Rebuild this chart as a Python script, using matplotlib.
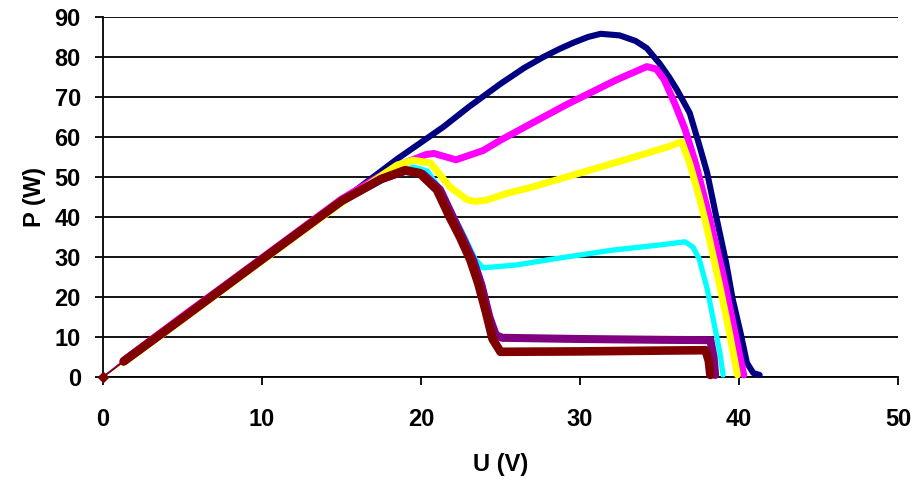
import matplotlib
matplotlib.use("Agg")
import matplotlib.pyplot as plt
from matplotlib import font_manager

# Pick a narrow bold sans if available
available = {f.name for f in font_manager.fontManager.ttflist}
FONT = "Liberation Sans Narrow" if "Liberation Sans Narrow" in available else "Liberation Sans"
plt.rcParams["font.family"] = [FONT, "DejaVu Sans"]

# P-U curves of a PV module under different shading levels
u_full = [0, 1.3, 5, 10, 15, 18.5, 21.4, 23, 25, 26.5, 27.7, 28.7, 29.6, 30.5, 31.3,
          32.5, 33.5, 34.2, 35.0, 35.6, 36.1, 36.9, 37.5, 38.0, 38.6, 39.2, 39.6,
          40.1, 40.5, 40.9, 41.3]
p_full = [0, 3.9, 14.7, 29.4, 44, 54.5, 62.5, 67.5, 73.3, 77.3, 80.0, 82.0, 83.6,
          85.0, 85.8, 85.4, 84.0, 82.2, 78.4, 75, 71.8, 66, 58, 51, 39.5, 28.4, 19.5,
          11, 3.5, 1, 0.5]

u_s1 = [0, 1.3, 5, 10, 15, 18.5, 20.3, 20.8, 22.2, 23.9, 25, 27, 29.2, 32.3, 34.2,
        34.8, 35.3, 36.0, 36.6, 37.3, 38.2, 39.0, 39.7, 40.3]
p_s1 = [0, 4.2, 15.2, 29.8, 44.5, 52.8, 55.6, 55.9, 54.3, 56.6, 59.2, 63.5, 68.2, 74.3,
        77.6, 77, 74.3, 68, 62, 53, 39, 25.5, 12, 0.5]

u_s2 = [0, 1.3, 5, 10, 15, 18.5, 19.5, 20.6, 21.8, 22.9, 23.4, 24.1, 25.4, 27, 30,
        33, 35.5, 36.4, 36.9, 37.5, 38.0, 38.8, 39.4, 39.9]
p_s2 = [0, 3.6, 14.3, 29.0, 43.5, 53.0, 54.2, 53.5, 47.6, 44.3, 43.9, 44.2, 45.9, 47.5,
        51, 54.5, 57.5, 58.8, 53.4, 45, 37, 22.6, 11, 0.5]

u_s3 = [0, 1.3, 5, 10, 15, 18, 19.5, 20.4, 21.2, 22.1, 22.75, 23.4, 23.9, 26, 28,
        32, 35, 36.6, 37.1, 37.5, 38.0, 38.4, 38.8, 39.0]
p_s3 = [0, 3.8, 14.5, 29.2, 43.8, 50, 52.5, 51.5, 47, 40, 35, 29.5, 27.3, 28, 29.3,
        31.7, 33, 33.8, 32.5, 29.5, 22, 14, 6, 0.5]

u_s4 = [0, 1.3, 5, 10, 15, 17.5, 19.0, 20.1, 21.2, 22.0, 22.6, 23.3, 23.8, 24.3,
        24.7, 25.1, 30, 35, 38.2, 38.4, 38.5]
p_s4 = [0, 3.9, 14.7, 29.4, 44, 49.5, 51.5, 50.8, 46.8, 40, 35, 29, 23, 15, 10.5,
        9.8, 9.5, 9.3, 9.2, 5, 0.5]

u_s5 = [0, 1.3, 5, 10, 15, 17.5, 19.0, 19.9, 21.0, 21.8, 22.45, 23.1, 23.6, 24.1,
        24.5, 25.0, 30, 35, 37.9, 38.1, 38.2]
p_s5 = [0, 3.9, 14.7, 29.4, 44, 49.5, 51.7, 51.0, 46.8, 40, 35, 29.3, 23.4, 16, 9.5,
        6.3, 6.4, 6.6, 6.7, 4, 0.5]

series = [
    (u_full, p_full, "#000080", 4.4),
    (u_s1, p_s1, "#FF00FF", 5.0),
    (u_s2, p_s2, "#FFFF00", 5.0),
    (u_s3, p_s3, "#00FFFF", 3.8),
    (u_s4, p_s4, "#800080", 5.8),
    (u_s5, p_s5, "#800000", 6.2),
]

x_ticks = [0, 10, 20, 30, 40, 50]
y_ticks = [0, 10, 20, 30, 40, 50, 60, 70, 80, 90]

fig = plt.figure(figsize=(9.22, 4.79), dpi=100)
ax = fig.add_axes([103 / 922, 1 - 377 / 479, 795 / 922, 360 / 479])

ax.set_xlim(0, 50)
ax.set_ylim(0, 90)

for u, p, color, lw in series:
    # thin connector from the origin, then the dense measured band
    ax.plot(u[:2], p[:2], color=color, lw=1.0, clip_on=False, zorder=3)
    ax.plot(u[1:], p[1:], color=color, lw=lw, solid_capstyle="round",
            solid_joinstyle="round", clip_on=False, zorder=3)
ax.plot([u_s5[0]], [p_s5[0]], marker="D", ms=5, color="#800000",
        clip_on=False, zorder=4)

ax.set_xticks(x_ticks)
ax.set_yticks(y_ticks)
ax.yaxis.grid(True, color="black", lw=1.3)
ax.set_axisbelow(True)

for s in ["top", "right"]:
    ax.spines[s].set_visible(False)
for s in ["left", "bottom"]:
    ax.spines[s].set_color("black")
    ax.spines[s].set_linewidth(1.3)

ax.tick_params(axis="both", direction="out", length=6, width=1.3, color="black",
               labelsize=17)
ax.tick_params(axis="y", pad=10)
ax.tick_params(axis="x", pad=16)
for lab in ax.get_xticklabels() + ax.get_yticklabels():
    lab.set_fontweight("bold")

ax.set_xlabel("U (V)", fontsize=17, fontweight="bold", labelpad=16)
ax.set_ylabel("P (W)", fontsize=17, fontweight="bold", labelpad=6)

fig.savefig("out.png", dpi=100)
